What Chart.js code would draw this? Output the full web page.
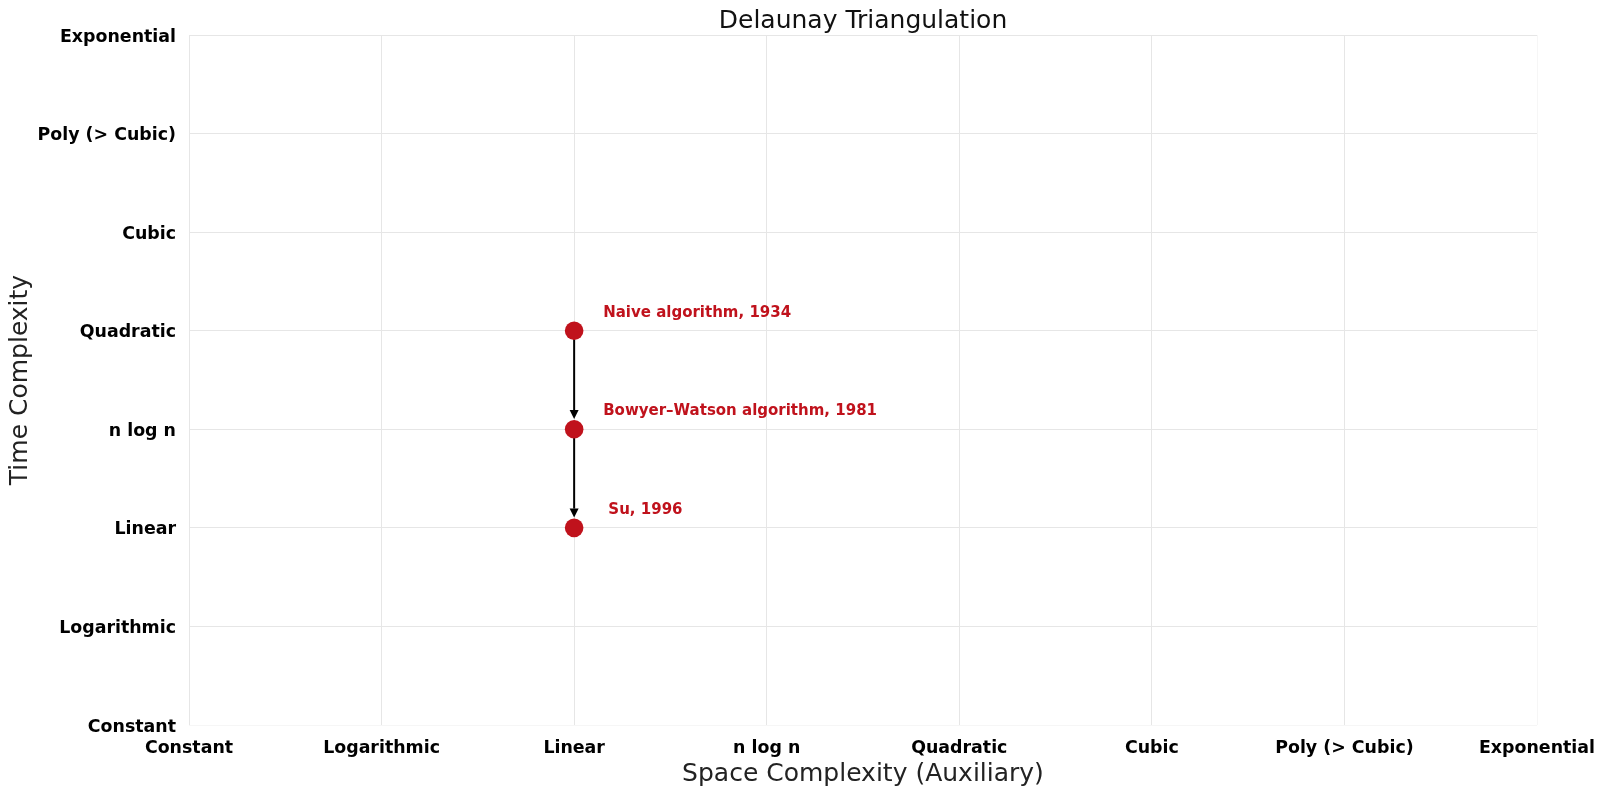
<!DOCTYPE html>
<html>
<head>
<meta charset="utf-8">
<script src="https://cdn.jsdelivr.net/npm/chart.js@4"></script>
<style>
  html, body { margin: 0; padding: 0; background: #fff; }
  canvas { display: block; }
</style>
</head>
<body>
<canvas id="grafico" width="1604" height="794"></canvas>
<script>
// complexity classes used as tick labels on both axes
const spaceLabels = ["Constant", "Logarithmic", "Linear", "n log n", "Quadratic", "Cubic", "Poly (> Cubic)", "Exponential"];
const timeLabels = ["Constant", "Logarithmic", "Linear", "n log n", "Quadratic", "Cubic", "Poly (> Cubic)", "Exponential"];

// algorithms, in chronological order
const algoNames = ["Naive algorithm, 1934", "Bowyer–Watson algorithm, 1981", " Su, 1996"];
const spaceValues = [2, 2, 2];
const timeValues = [4, 3, 2];

const rojo = "#c0121c";
const fuente = "'DejaVu Sans', sans-serif";
const radio = 9.3;

const puntos = spaceValues.map((x, i) => ({ x: x, y: timeValues[i] }));

// title centered over the plot area
const tituloPlugin = {
    id: "tituloPlugin",
    afterDraw(chart) {
        const { ctx, chartArea } = chart;
        ctx.save();
        ctx.font = "25px " + fuente;
        ctx.fillStyle = "#111";
        ctx.textAlign = "center";
        ctx.textBaseline = "middle";
        ctx.fillText("Delaunay Triangulation", (chartArea.left + chartArea.right) / 2, 21);
        ctx.restore();
    }
};

// arrows between consecutive algorithms + the red labels
const flechasPlugin = {
    id: "flechasPlugin",
    beforeDatasetsDraw(chart) {
        const { ctx, scales } = chart;
        ctx.save();
        ctx.strokeStyle = "#000";
        ctx.fillStyle = "#000";
        ctx.lineWidth = 2;
        for (let i = 0; i < puntos.length - 1; i++) {
            const x1 = scales.x.getPixelForValue(puntos[i].x);
            const y1 = scales.y.getPixelForValue(puntos[i].y);
            const x2 = scales.x.getPixelForValue(puntos[i + 1].x);
            const y2 = scales.y.getPixelForValue(puntos[i + 1].y);
            const ang = Math.atan2(y2 - y1, x2 - x1);
            const tx = x2 - Math.cos(ang) * (radio + 1);
            const ty = y2 - Math.sin(ang) * (radio + 1);
            const largo = 9, ancho = 4.5;
            const bx = tx - Math.cos(ang) * largo;
            const by = ty - Math.sin(ang) * largo;
            ctx.beginPath();
            ctx.moveTo(x1, y1);
            ctx.lineTo(bx, by);
            ctx.stroke();
            ctx.beginPath();
            ctx.moveTo(tx, ty);
            ctx.lineTo(bx - Math.sin(ang) * ancho, by + Math.cos(ang) * ancho);
            ctx.lineTo(bx + Math.sin(ang) * ancho, by - Math.cos(ang) * ancho);
            ctx.closePath();
            ctx.fill();
        }
        ctx.restore();
    },
    afterDatasetsDraw(chart) {
        const { ctx, scales } = chart;
        ctx.save();
        ctx.font = "bold 15px " + fuente;
        ctx.fillStyle = rojo;
        ctx.textAlign = "left";
        ctx.textBaseline = "middle";
        puntos.forEach((p, i) => {
            const x = scales.x.getPixelForValue(p.x);
            const y = scales.y.getPixelForValue(p.y);
            ctx.fillText(algoNames[i], x + 29, y - 18);
        });
        ctx.restore();
    }
};

const colorGrid = (borde) => (c) => (c.index === borde ? "#f6f6f6" : "#e6e6e6");

const ctx = document.querySelector("#grafico").getContext("2d");
new Chart(ctx, {
    type: "scatter",
    data: {
        datasets: [
            {
                data: puntos,
                backgroundColor: rojo,
                borderWidth: 0,
                pointRadius: radio,
                pointHoverRadius: radio,
            },
        ],
    },
    options: {
        responsive: false,
        animation: false,
        layout: { padding: { left: 0, right: 67, top: 35, bottom: 0 } },
        plugins: {
            legend: { display: false },
            tooltip: { enabled: false },
            title: { display: false },
        },
        scales: {
            x: {
                type: "linear",
                min: 0,
                max: 7,
                afterFit: (s) => {
                    s.height = 69;
                    s.paddingLeft = 0;
                    s.paddingRight = 0;
                },
                ticks: {
                    stepSize: 1,
                    autoSkip: false,
                    maxRotation: 0,
                    padding: 13,
                    color: "#000",
                    font: { family: fuente, size: 17.4, weight: "bold" },
                    callback: (v) => spaceLabels[v],
                },
                grid: { color: colorGrid(7), lineWidth: 1, drawTicks: false },
                border: { display: false },
                title: {
                    display: true,
                    text: "Space Complexity (Auxiliary)",
                    color: "#222",
                    font: { family: fuente, size: 25 },
                    padding: { top: 0, bottom: 5 },
                },
            },
            y: {
                type: "linear",
                min: 0,
                max: 7,
                afterFit: (s) => {
                    s.width = 189;
                    s.paddingTop = 0;
                    s.paddingBottom = 0;
                },
                ticks: {
                    stepSize: 1,
                    autoSkip: false,
                    padding: 13,
                    labelOffset: 2,
                    color: "#000",
                    font: { family: fuente, size: 17.4, weight: "bold" },
                    callback: (v) => timeLabels[v],
                },
                grid: { color: colorGrid(0), lineWidth: 1, drawTicks: false },
                border: { display: false },
                title: {
                    display: true,
                    text: "Time Complexity",
                    color: "#222",
                    font: { family: fuente, size: 25 },
                    padding: { top: 5, bottom: 0 },
                },
            },
        },
    },
    plugins: [tituloPlugin, flechasPlugin],
});
</script>
</body>
</html>
